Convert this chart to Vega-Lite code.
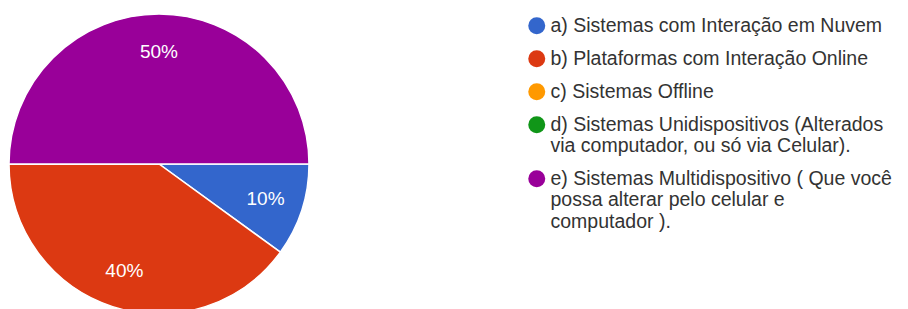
{
  "$schema": "https://vega.github.io/schema/vega-lite/v6.json",
  "width": 318,
  "height": 328,
  "autosize": {"type": "none"},
  "padding": {"left": 0, "top": 0, "right": 590, "bottom": 0},
  "background": "white",
  "data": {
    "values": [
      {"cat": "a) Sistemas com Interação em Nuvem", "share": 0.1},
      {"cat": "b) Plataformas com Interação Online", "share": 0.4},
      {"cat": "c) Sistemas Offline", "share": 0.0},
      {"cat": "d) Sistemas Unidispositivos (Alterados\nvia computador, ou só via Celular).", "share": 0.0},
      {"cat": "e) Sistemas Multidispositivo ( Que você\npossa alterar pelo celular e\ncomputador ).", "share": 0.5}
    ]
  },
  "encoding": {
    "theta": {
      "field": "share",
      "type": "quantitative",
      "stack": true,
      "scale": {"range": [1.5707963, 7.8539816]}
    }
  },
  "layer": [
    {
      "mark": {"type": "arc", "outerRadius": 150, "stroke": "white", "strokeWidth": 1.5},
      "encoding": {
        "color": {
          "field": "cat",
          "type": "nominal",
          "sort": null,
          "scale": {
            "domain": [
              "a) Sistemas com Interação em Nuvem",
              "b) Plataformas com Interação Online",
              "c) Sistemas Offline",
              "d) Sistemas Unidispositivos (Alterados\nvia computador, ou só via Celular).",
              "e) Sistemas Multidispositivo ( Que você\npossa alterar pelo celular e\ncomputador )."
            ],
            "range": ["#3366cc", "#dc3912", "#ff9900", "#109618", "#990099"]
          },
          "legend": {
            "orient": "none",
            "legendX": 527,
            "legendY": 16,
            "title": null,
            "symbolType": "circle",
            "symbolSize": 289,
            "symbolStrokeWidth": 0,
            "symbolOpacity": 1,
            "labelFont": "Liberation Sans",
            "labelFontSize": 19.5,
            "labelLineHeight": 24,
            "labelColor": "#333333",
            "labelLimit": 0,
            "labelOffset": 4,
            "rowPadding": 12,
            "padding": 0,
            "labelExpr": "split(datum.label, '\\n')"
          }
        }
      }
    },
    {
      "transform": [{"filter": "datum.share > 0"}],
      "mark": {"type": "text", "radius": 112, "fontSize": 19, "font": "Liberation Sans"},
      "encoding": {
        "text": {"field": "share", "type": "quantitative", "format": ".0%"},
        "color": {"value": "white"}
      }
    }
  ]
}
